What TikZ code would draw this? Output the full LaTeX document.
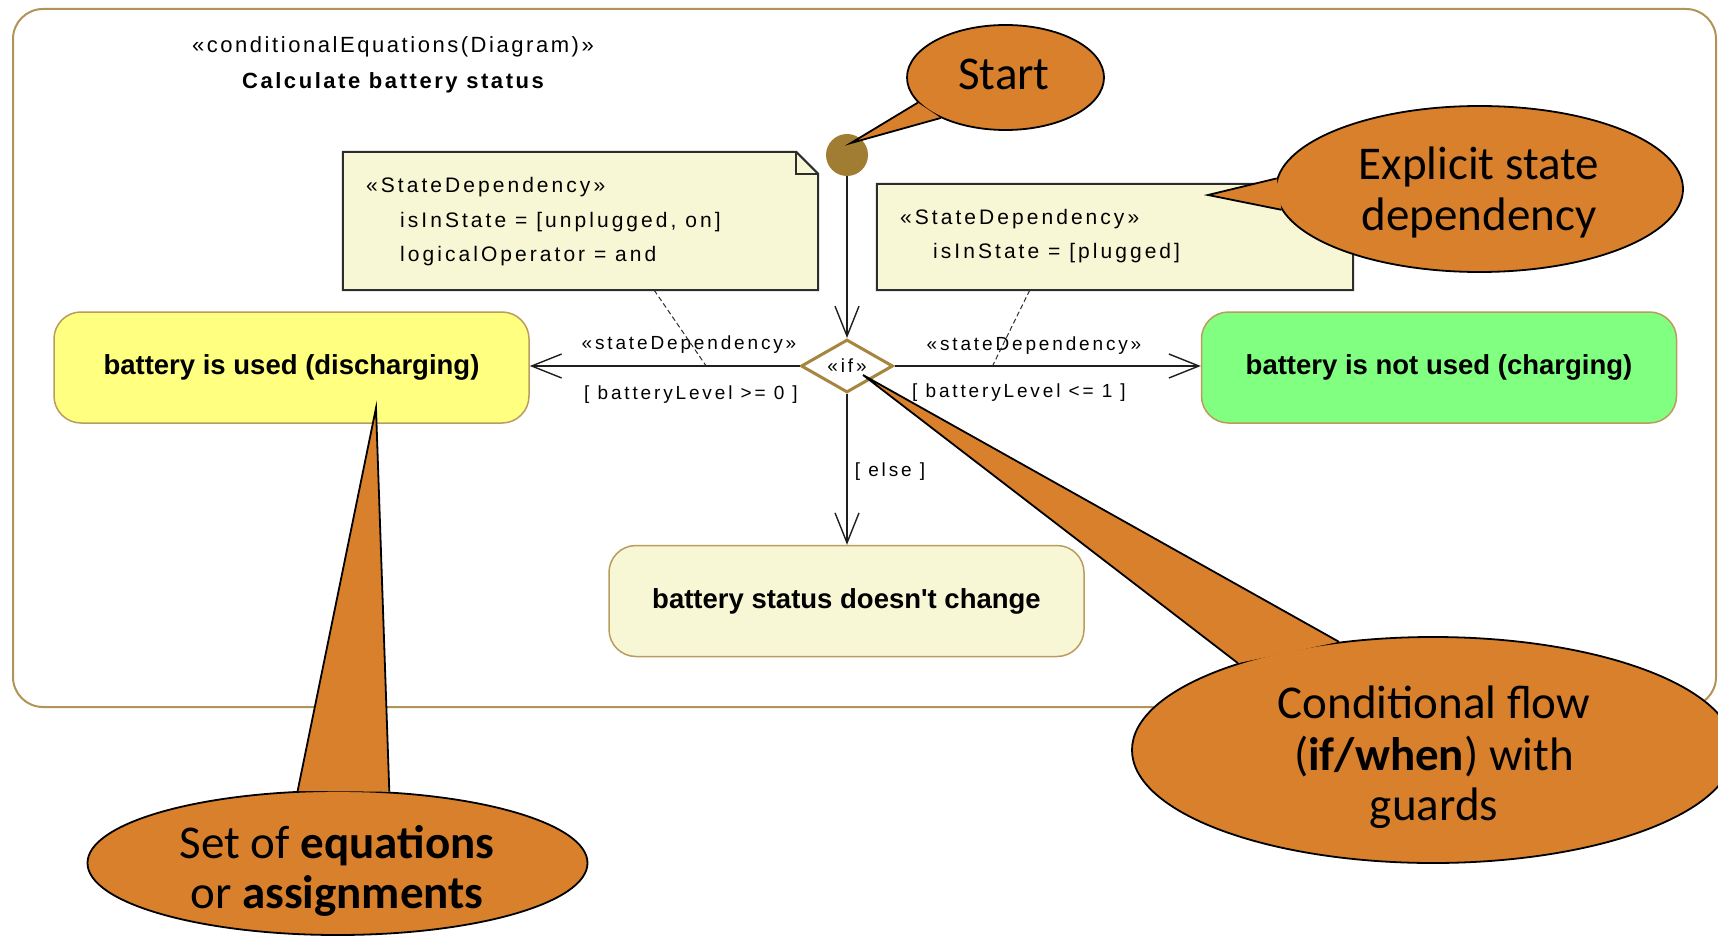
\documentclass[tikz,border=0pt]{standalone}
\usepackage{fontspec}
\setmainfont{Liberation Sans}
\newfontfamily\titlefont[LetterSpace=11.6]{Liberation Sans}
\newfontfamily\notefont[LetterSpace=14.5]{Liberation Sans}
\newfontfamily\labelfont[LetterSpace=15]{Liberation Sans}
\newfontfamily\actionfont{Liberation Sans}
\newfontfamily\balloonfont{Carlito}
\usetikzlibrary{shapes.geometric, arrows.meta, calc}

\definecolor{frameline}{RGB}{178,148,88}
\definecolor{nodeline}{RGB}{186,156,92}
\definecolor{dialine}{RGB}{166,133,62}
\definecolor{startdot}{RGB}{160,125,50}
\definecolor{notefill}{RGB}{247,247,214}
\definecolor{usedfill}{RGB}{255,255,128}
\definecolor{chargefill}{RGB}{128,255,128}
\definecolor{balloonfill}{RGB}{216,128,44}
\definecolor{noteline}{RGB}{45,45,45}
\definecolor{flowline}{RGB}{30,30,30}

% tail of a speech balloon: node, two border angles, tip coordinate
\newcommand\balloontail[4]{%
  \fill[balloonfill] (#1.#2) -- (#4) -- (#1.#3) -- cycle;
  \draw[balloonedge] (#1.#2) -- (#4) -- (#1.#3);
}

\begin{document}
\begin{tikzpicture}[x=1pt, y=-1pt,
  diagramframe/.style={rectangle, rounded corners=30pt, draw=frameline, line width=2pt, inner sep=0pt},
  action/.style={rectangle, rounded corners=27pt, draw=nodeline, line width=1.5pt,
    minimum width=475pt, minimum height=111pt, inner sep=0pt,
    font=\actionfont\bfseries\fontsize{27.5}{33}\selectfont},
  notebody/.style={fill=notefill, draw=noteline, line width=2pt, line join=miter},
  notetext/.style={anchor=base west, inner sep=0pt, font=\notefont\fontsize{21}{25}\selectfont},
  guard/.style={anchor=base, inner sep=0pt, font=\labelfont\fontsize{19}{23}\selectfont},
  flow/.style={draw=flowline, line width=1.4pt,
    -{Straight Barb[length=30pt, width=24pt, line width=1.4pt]}},
  depline/.style={draw=noteline, line width=1pt, dash pattern=on 5pt off 3pt},
  balloon/.style={ellipse, fill=balloonfill, draw=black, line width=1.8pt, inner sep=0pt},
  balloonedge/.style={draw=black, line width=1.8pt, line join=miter},
  balloontext/.style={anchor=base, inner sep=0pt, font=\balloonfont\fontsize{47}{52}\selectfont}
]
\useasboundingbox (0,0) rectangle (1718,936);
\clip (0,0) rectangle (1718,936);
\fill[white] (0,0) rectangle (1718,936);

% diagram frame and its heading
\node[diagramframe, minimum width=1703pt, minimum height=698pt] (frame) at (864.5,358) {};
\node[anchor=base, inner sep=0pt, font=\titlefont\fontsize{22}{26}\selectfont] (stereo) at (393,53) {«conditionalEquations(Diagram)»};
\node[anchor=base, inner sep=0pt, font=\titlefont\bfseries\fontsize{22}{26}\selectfont] (title) at (393,89) {Calculate battery status};

% state dependency notes
\node[rectangle, minimum width=475pt, minimum height=138pt, inner sep=0pt] (note1) at (580.5,221) {};
\filldraw[notebody] (note1.north west) -- ($(note1.north east)+(-22,0)$) -- ($(note1.north east)+(0,22)$)
  -- (note1.south east) -- (note1.south west) -- cycle;
\draw[draw=noteline, line width=2pt] ($(note1.north east)+(-22,0)$) |- ($(note1.north east)+(0,22)$);
\node[notetext] (n1a) at (366,193) {«StateDependency»};
\node[notetext] (n1b) at (400,227) {isInState = [unplugged, on]};
\node[notetext] (n1c) at (400,261) {logicalOperator = and};

\node[rectangle, minimum width=476pt, minimum height=106pt, inner sep=0pt] (note2) at (1115,237) {};
\filldraw[notebody] (note2.north west) -- ($(note2.north east)+(-22,0)$) -- ($(note2.north east)+(0,22)$)
  -- (note2.south east) -- (note2.south west) -- cycle;
\draw[draw=noteline, line width=2pt] ($(note2.north east)+(-22,0)$) |- ($(note2.north east)+(0,22)$);
\node[notetext] (n2a) at (900,225) {«StateDependency»};
\node[notetext] (n2b) at (933,258) {isInState = [plugged]};

% actions
\node[action, fill=usedfill] (used) at (291.5,367.5) {battery is used (discharging)};
\node[action, fill=chargefill] (charging) at (1439,367.5) {battery is not used (charging)};
\node[action, fill=notefill] (nochange) at (846.5,601) {battery status doesn't change};

% initial node and decision
\node[circle, fill=startdot, minimum size=42pt, inner sep=0pt] (start) at (847,155) {};
\node[diamond, draw=dialine, line width=3pt, fill=white, minimum width=92pt, minimum height=50pt,
  inner sep=0pt, font=\labelfont\fontsize{19}{23}\selectfont] (decision) at (847,366) {«if»};

% control flows
\draw[flow] (start) -- (decision.north);
\draw[flow] (decision.west) -- (decision.west -| used.east);
\draw[flow] (decision.east) -- (decision.east -| charging.west);
\draw[flow] (decision.south) -- (decision.south |- nochange.north);

% guards and stereotypes on the flows
\node[guard] (sdleft) at (689,349) {«stateDependency»};
\node[guard] (gleft) at (691,399) {[ batteryLevel >= 0 ]};
\node[guard] (sdright) at (1034,350) {«stateDependency»};
\node[guard] (gright) at (1019,397) {[ batteryLevel <= 1 ]};
\node[guard] (gelse) at (890,476) {[ else ]};

% note anchors
\draw[depline] ($(note1.south west)!0.655!(note1.south east)$) -- ($(decision.west)!0.346!(decision.west -| used.east)$);
\draw[depline] ($(note2.south west)!0.321!(note2.south east)$) -- ($(decision.east)!0.32!(decision.east -| charging.west)$);

% speech balloons
\node[balloon, minimum width=197pt, minimum height=105pt] (bstart) at (1005.5,77.5) {};
\coordinate (tipstart) at (851,143);
\balloontail{bstart}{196}{212}{tipstart}
\node[balloontext] (tstart) at (1004,90) {Start};

\node[balloon, minimum width=407pt, minimum height=166pt] (bstate) at (1479.5,189) {};
\coordinate (tipstate) at (1208,195);
\balloontail{bstate}{177}{186}{tipstate}
\node[balloontext] (tstate1) at (1479,180) {Explicit state};
\node[balloontext] (tstate2) at (1479,230) {dependency};

\node[balloon, minimum width=602pt, minimum height=226pt] (bflow) at (1433,750) {};
\coordinate (tipflow) at (863,375);
\balloontail{bflow}{131}{156}{tipflow}
\node[balloontext] (tflow1) at (1434,718) {Conditional flow};
\node[balloontext] (tflow2) at (1434,770) {(\textbf{if/when}) with};
\node[balloontext] (tflow3) at (1434,820) {guards};

\node[balloon, minimum width=500pt, minimum height=144pt] (beq) at (337.5,863) {};
\coordinate (tipeq) at (376,408);
\balloontail{beq}{119}{54}{tipeq}
\node[balloontext] (teq1) at (337,858) {Set of \textbf{equations}};
\node[balloontext] (teq2) at (337,908) {or \textbf{assignments}};
\end{tikzpicture}
\end{document}
